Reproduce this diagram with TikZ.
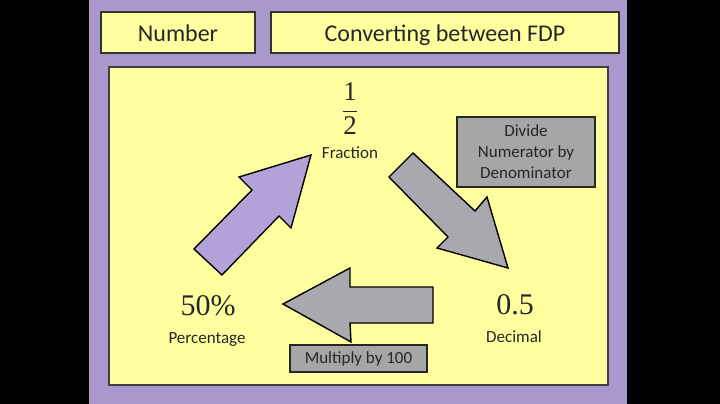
\documentclass[tikz,border=0pt]{standalone}
\usepackage{fontspec}
\setmainfont{Liberation Serif}
\setsansfont{Carlito}
\usepackage{tikz}
\definecolor{cframe}{HTML}{A898CB}
\definecolor{cpanel}{HTML}{FFFF9F}
\definecolor{cup}{HTML}{B3A2D8}
\definecolor{cgrey}{HTML}{A8A8AE}
\definecolor{chint}{HTML}{A6A6A6}
\definecolor{cink}{HTML}{262626}
\tikzset{
  title/.style={rectangle, draw=black!80, line width=1.2pt, fill=cpanel, inner sep=0pt,
    text=cink, text height=18pt, text depth=0pt, font=\sffamily\fontsize{24}{27}\selectfont},
  panel/.style={rectangle, draw=black!75, line width=1.2pt, fill=cpanel, inner sep=0pt},
  hint/.style={rectangle, draw=black!85, line width=1.2pt, fill=chint, inner sep=0pt,
    align=center, text=cink, font=\sffamily\fontsize{17}{21}\selectfont},
  value/.style={anchor=base, inner sep=0pt, text=cink, font=\rmfamily\fontsize{30}{34}\selectfont},
  kind/.style={anchor=base, inner sep=0pt, text=cink, font=\sffamily\fontsize{17}{20}\selectfont},
  block/.style={draw=black, line width=1.4pt, line join=miter},
}

\begin{document}
\begin{tikzpicture}[x=1pt, y=-1pt]
  % slide frame
  \useasboundingbox (0,0) rectangle (720,404);
  \fill[black] (0,0) rectangle (720,404);
  \fill[cframe] (89,0) rectangle (627,404);

  % headings
  \node[title, minimum width=154pt, minimum height=41pt] (hnum) at (178,32.5) {Number};
  \node[title, minimum width=348pt, minimum height=41pt] (htopic) at (445,32.5) {Converting between FDP};
  \node[panel, minimum width=499pt, minimum height=318pt] (board) at (358.5,226) {};

  % the three forms
  \node[inner sep=0pt, text=cink, font=\rmfamily\fontsize{27}{31}\selectfont] (frac) at (350,109)
    {$\displaystyle\frac{\mbox{1}}{\mbox{2}}$};
  \node[kind] (fraclbl) at (350,158) {Fraction};
  \node[value] (dec) at (515,314) {0.5};
  \node[kind] (declbl) at (514,342) {Decimal};
  \node[value] (pct) at (208,315.5) {50\%};
  \node[kind] (pctlbl) at (207,343) {Percentage};

  % hints
  \node[hint, minimum width=138pt, minimum height=70pt] (divhint) at (526,152) {Divide\\Numerator by\\Denominator};
  \node[hint, minimum width=137pt, minimum height=27pt] (mulhint) at (358.5,358.5) {Multiply by 100};

  % block arrows
  \filldraw[block, fill=cup] (194,249) -- (252,190) -- (239,177) -- (311,155)
    -- (291,228) -- (279,216) -- (222,275) -- cycle;
  \filldraw[block, fill=cgrey] (413,153) -- (475,211) -- (487,197) -- (508,268)
    -- (437,248) -- (448,237) -- (389,177) -- cycle;
  \filldraw[block, fill=cgrey] (283,304) -- (350,268) -- (350,287) -- (433,287)
    -- (433,323) -- (350,323) -- (351,342) -- cycle;
\end{tikzpicture}
\end{document}
